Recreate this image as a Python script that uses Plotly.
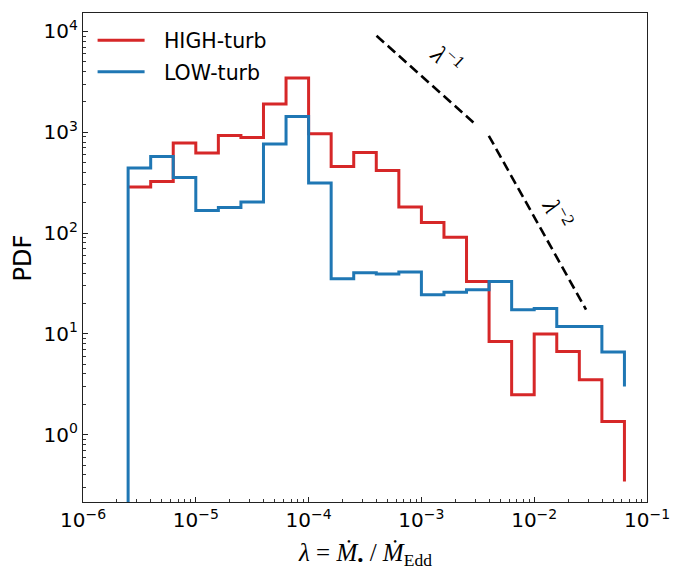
import numpy as np
import plotly.graph_objects as go

# log10 bin edges: 22 bins of 0.2 dex from 10^-5.6 to 10^-1.2
log_edge_start = -5.6
log_bin_width = 0.2
n_bins = 22
lam_edges = 10 ** (log_edge_start + log_bin_width * np.arange(n_bins + 1))

series_names = ["HIGH-turb", "LOW-turb"]

red_pdf = [286, 325, 781, 622, 929, 888, 1905, 3450, 966, 458, 631,
           418, 181, 127, 91, 33.1, 8.4, 2.49, 9.95, 6.69, 3.51, 1.35]
red_tail = 0.343

blue_pdf = [441, 575, 356, 167, 179, 203, 763, 1435, 313, 35.2, 40.4,
            39.2, 41.0, 24.4, 25.8, 27.4, 33.1, 17.3, 17.8, 11.8, 11.8, 6.6]
blue_tail = 3.0
blue_floor = 1e-3

guide1_lam = [4.0e-4, 2.98e-3]
guide1_pdf = [9.06e3, 1.215e3]
guide2_lam = [3.96e-3, 2.88e-2]
guide2_pdf = [923, 17.4]

xtick_vals = [1e-6, 1e-5, 1e-4, 1e-3, 1e-2, 1e-1]
ytick_vals = [1e0, 1e1, 1e2, 1e3, 1e4]
x_minor = [m * 10.0 ** d for d in range(-6, -1) for m in range(2, 10)]
y_minor = [m * 10.0 ** d for d in range(-1, 5) for m in range(2, 10)]

RED = "#d62728"
BLUE = "#1f77b4"
PAD = "\u2002\u2009"

fig = go.Figure()

fig.add_trace(go.Scatter(
    x=list(lam_edges), y=red_pdf + [red_tail],
    mode="lines", line=dict(shape="hv", color=RED, width=3),
    name=PAD + series_names[0], legendgroup="high"))

fig.add_trace(go.Scatter(
    x=[lam_edges[0]] + list(lam_edges), y=[blue_floor] + blue_pdf + [blue_tail],
    mode="lines", line=dict(shape="hv", color=BLUE, width=3),
    name=PAD + series_names[1], legendgroup="low"))

for gx, gy in [(guide1_lam, guide1_pdf), (guide2_lam, guide2_pdf)]:
    fig.add_trace(go.Scatter(
        x=gx, y=gy, mode="lines",
        line=dict(color="black", width=2.6, dash="10px,5px"),
        showlegend=False, hoverinfo="skip"))

def pow_label(v):
    e = int(round(np.log10(v)))
    s = str(e).replace("-", "\u2212")
    return f"10<sup>{s}</sup>"

def axis_common(minor_vals):
    return dict(
        type="log", showgrid=False, zeroline=False, automargin=False,
        showline=True, linecolor="#222", linewidth=1.3, mirror=True,
        ticks="inside", ticklen=5, tickwidth=1.2, tickcolor="#222",
        tickfont=dict(family="DejaVu Sans", size=20, color="black"),
        minor=dict(ticks="inside", ticklen=3, tickwidth=0.9, tickcolor="#333",
                   tickvals=minor_vals, showgrid=False),
    )

fig.update_layout(
    width=675, height=571,
    margin=dict(l=83, r=28, t=13, b=69),
    paper_bgcolor="white", plot_bgcolor="white",
    xaxis=dict(range=[-6, -1], tickvals=xtick_vals,
               ticktext=[pow_label(v) for v in xtick_vals],
               **axis_common(x_minor)),
    yaxis=dict(range=[-0.668, 4.183], tickvals=ytick_vals,
               ticktext=[pow_label(v) for v in ytick_vals],
               **axis_common(y_minor)),
    legend=dict(x=0.017, y=0.985, xanchor="left", yanchor="top",
                bgcolor="rgba(255,255,255,0)", borderwidth=0,
                font=dict(family="DejaVu Sans", size=20.5, color="black"),
                itemwidth=47, tracegroupgap=2),
    annotations=[
        dict(x=0.5, y=-0.108, xref="paper", yref="paper", showarrow=False,
             xanchor="center", yanchor="middle",
             text="<i>λ</i> = <i>Ṁ</i><sub>•</sub> / <i>Ṁ</i><sub>Edd</sub>",
             font=dict(family="Liberation Serif", size=25, color="black")),
        dict(x=-0.1066, y=0.5, xref="paper", yref="paper", showarrow=False,
             xanchor="center", yanchor="middle", textangle=-90,
             text="PDF",
             font=dict(family="DejaVu Sans", size=24, color="black")),
        dict(x=-2.769, y=3.729, xref="x", yref="y", showarrow=False,
             text="<i>λ</i><sup>−1</sup>", textangle=42,
             font=dict(family="Liberation Serif", size=25, color="black")),
        dict(x=-1.790, y=2.201, xref="x", yref="y", showarrow=False,
             text="<i>λ</i><sup>−2</sup>", textangle=62,
             font=dict(family="Liberation Serif", size=25, color="black")),
    ],
    showlegend=True,
)

fig.write_html("out.html",
               config={"displayModeBar": False},
               post_script="document.body.style.margin='0';"
                           "document.body.style.padding='0';")
